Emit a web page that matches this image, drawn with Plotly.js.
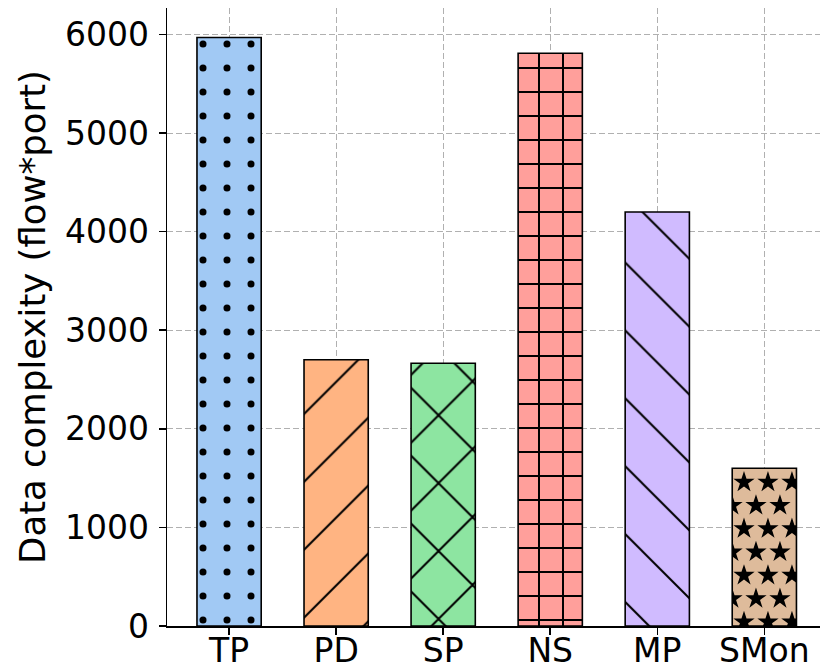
<!DOCTYPE html>
<html><head><meta charset="utf-8">
<script src="https://cdn.plot.ly/plotly-3.0.1.min.js"></script>
<style>html,body{margin:0;padding:0;background:#fff}</style>
</head><body><div id="chart" style="width:820px;height:669px"></div>
<script>
// ---- data ----
const categories = ['TP', 'PD', 'SP', 'NS', 'MP', 'SMon'];
const values = [5970, 2700, 2665, 5810, 4200, 1600];
const yTickVals = [0, 1000, 2000, 3000, 4000, 5000, 6000];
const yLabel = 'Data complexity (flow*port)';

// ---- styles ----
const colors = ['#a1c9f4', '#ffb482', '#8de5a1', '#ff9f9b', '#d0bbff', '#debb9b'];
const patShapes = ['.', '/', 'x', '+', '\\', ''];
const patSizes = [24, 48, 48, 24, 48, 24];
const patSolid = [0.068, 0.042, 0.082, 0.16, 0.042, 0];
const barWidth = 0.6;
const FONT = 'DejaVu Sans, sans-serif';
const xMin = -0.58, xMax = 5.52;
const yMax = Math.max(...values) * 1.05;

// one trace per bar so every pattern keeps its own black foreground
const barTraces = categories.map((c, i) => {
  const marker = {color: colors[i], line: {color: '#000', width: 1.6}};
  if (patShapes[i]) {
    marker.pattern = {shape: patShapes[i], size: patSizes[i], solidity: patSolid[i],
      fillmode: 'replace', bgcolor: colors[i], fgcolor: '#000000', fgopacity: 1};
  }
  return {type: 'bar', x: [c], y: [values[i]], width: barWidth, marker: marker,
    xaxis: 'x', yaxis: 'y', hoverinfo: 'skip', showlegend: false};
});

// star hatch for the last bar, clipped to the bar's own extent via a dedicated subplot
const starIdx = categories.length - 1;
const bx0 = starIdx - barWidth / 2, bx1 = starIdx + barWidth / 2;
const colStep = 0.224, rowStep = 236, topOff = 142;
const sx = [], sy = [];
for (let k = 0; ; k++) {
  const yy = values[starIdx] - topOff - k * rowStep;
  if (yy < -rowStep / 2) break;
  for (let i = -3; i <= 3; i++) {
    const xx = starIdx + 0.034 + i * colStep - (k % 2) * colStep / 2;
    if (xx > bx0 - 0.07 && xx < bx1 + 0.07) { sx.push(xx); sy.push(yy); }
  }
}
const stars = {
  type: 'scatter', mode: 'markers', x: sx, y: sy, xaxis: 'x2', yaxis: 'y2',
  marker: {symbol: 'star', size: 16, color: '#000', line: {width: 0}},
  cliponaxis: true, hoverinfo: 'skip', showlegend: false
};

const dom0 = (bx0 - xMin) / (xMax - xMin), dom1 = (bx1 - xMin) / (xMax - xMin);

const axisCommon = {
  showline: true, linecolor: '#000', linewidth: 1.5,
  ticks: 'outside', ticklen: 7, tickwidth: 1.5, tickcolor: '#000',
  showgrid: true, gridcolor: '#b0b0b0', gridwidth: 1, griddash: '6px,3px',
  zeroline: false, tickfont: {family: FONT, size: 33, color: '#000'}
};

const layout = {
  width: 820, height: 669,
  margin: {l: 167, r: 0, t: 8, b: 43},
  paper_bgcolor: '#fff', plot_bgcolor: 'rgba(0,0,0,0)',
  font: {family: FONT, color: '#000'},
  barmode: 'overlay',
  xaxis: Object.assign({}, axisCommon, {type: 'category', categoryorder: 'array', categoryarray: categories,
    range: [xMin, xMax], domain: [0, 1], ticklabelstandoff: -12}),
  yaxis: Object.assign({}, axisCommon, {range: [0, yMax], tickmode: 'array', tickvals: yTickVals,
    ticktext: yTickVals.map(String), ticklabelstandoff: 3,
    title: {text: yLabel, font: {family: FONT, size: 35.5, color: '#000'}, standoff: 8}}),
  xaxis2: {domain: [dom0, dom1], range: [bx0, bx1], visible: false, showgrid: false, zeroline: false, anchor: 'y2', fixedrange: true},
  yaxis2: {domain: [0, 1], range: [0, yMax], visible: false, showgrid: false, zeroline: false, anchor: 'x2', fixedrange: true}
};

Plotly.newPlot('chart', barTraces.concat([stars]), layout, {staticPlot: true, displayModeBar: false});
</script></body></html>
